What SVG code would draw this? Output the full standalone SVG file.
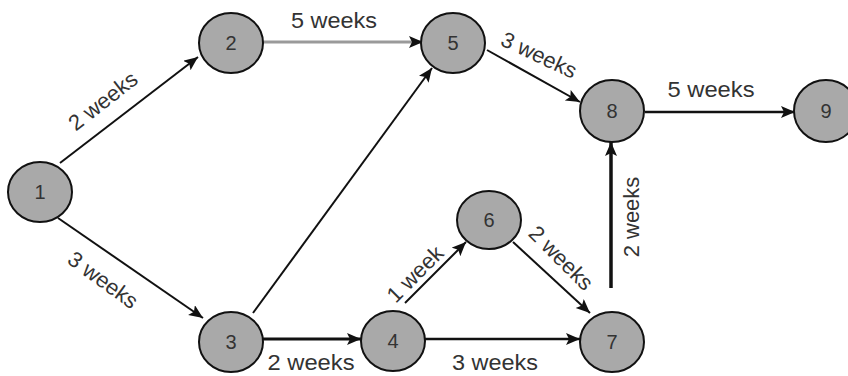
<svg xmlns="http://www.w3.org/2000/svg" width="848" height="376" viewBox="0 0 848 376">
<style>
.node ellipse{fill:#a9a9a9;stroke:#111;stroke-width:2}
.node text{font-family:"Liberation Sans",Arial,sans-serif;font-size:20px;fill:#333;text-anchor:middle;dominant-baseline:central}
.edge{stroke:#111;stroke-width:2;fill:none;marker-end:url(#arr)}
.lbl{font-family:"Liberation Sans",Arial,sans-serif;font-size:22px;fill:#333;text-anchor:middle}
.rl{dominant-baseline:central}
</style>
<defs>
<marker id="arr" markerUnits="userSpaceOnUse" markerWidth="16" markerHeight="14" refX="14" refY="6" orient="auto">
<path d="M0,0 L14,6 L0,12 L3,6 Z" fill="#111"/>
</marker>
</defs>
<rect width="848" height="376" fill="#fff"/>
<g id="connectors">
<line class="edge" x1="60" y1="163" x2="198" y2="57"/>
<line class="edge" x1="58" y1="218" x2="203" y2="318"/>
<line class="edge" x1="263" y1="42" x2="423" y2="42" style="stroke:#9a9a9a;stroke-width:3"/>
<line class="edge" x1="253" y1="313" x2="432" y2="68"/>
<line class="edge" x1="487" y1="50" x2="580" y2="102"/>
<line class="edge" x1="263" y1="339" x2="361" y2="339" style="stroke-width:3"/>
<line class="edge" x1="425" y1="339" x2="580" y2="339" style="stroke-width:2.5"/>
<line class="edge" x1="405" y1="303" x2="466" y2="242"/>
<line class="edge" x1="513" y1="242" x2="590" y2="313"/>
<line class="edge" x1="611" y1="288" x2="611" y2="142" style="stroke-width:3.5"/>
<line class="edge" x1="645" y1="112" x2="795" y2="112" style="stroke-width:2.5"/>
<text class="lbl" x="334" y="28" textLength="86" lengthAdjust="spacingAndGlyphs">5 weeks</text>
<text class="lbl" x="311" y="370" textLength="87" lengthAdjust="spacingAndGlyphs">2 weeks</text>
<text class="lbl" x="495" y="370" textLength="86" lengthAdjust="spacingAndGlyphs">3 weeks</text>
<text class="lbl" x="711" y="97" textLength="87" lengthAdjust="spacingAndGlyphs">5 weeks</text>
<text class="lbl rl" transform="translate(103,101) rotate(-38)">2 weeks</text>
<text class="lbl rl" transform="translate(103,280) rotate(36)">3 weeks</text>
<text class="lbl rl" transform="translate(539,55) rotate(25)">3 weeks</text>
<text class="lbl rl" transform="translate(415,274) rotate(-45)">1 week</text>
<text class="lbl rl" transform="translate(561,258) rotate(45)">2 weeks</text>
<text class="lbl rl" transform="translate(631,217) rotate(-90)">2 weeks</text>
</g>
<g id="n1" class="node"><ellipse cx="40" cy="192" rx="32" ry="30"/><text x="40" y="192">1</text></g>
<g id="n2" class="node"><ellipse cx="231" cy="43" rx="32" ry="30"/><text x="231" y="43">2</text></g>
<g id="n3" class="node"><ellipse cx="231" cy="342" rx="32" ry="30"/><text x="231" y="342">3</text></g>
<g id="n4" class="node"><ellipse cx="393" cy="341" rx="32" ry="30"/><text x="393" y="341">4</text></g>
<g id="n5" class="node"><ellipse cx="453" cy="43" rx="32" ry="30"/><text x="453" y="43">5</text></g>
<g id="n6" class="node"><ellipse cx="489" cy="220" rx="32" ry="29"/><text x="489" y="220">6</text></g>
<g id="n7" class="node"><ellipse cx="612" cy="342" rx="32" ry="30"/><text x="612" y="342">7</text></g>
<g id="n8" class="node"><ellipse cx="612" cy="111" rx="32" ry="31"/><text x="612" y="111">8</text></g>
<g id="n9" class="node"><ellipse cx="826" cy="111" rx="32" ry="31"/><text x="826" y="111">9</text></g>
</svg>
